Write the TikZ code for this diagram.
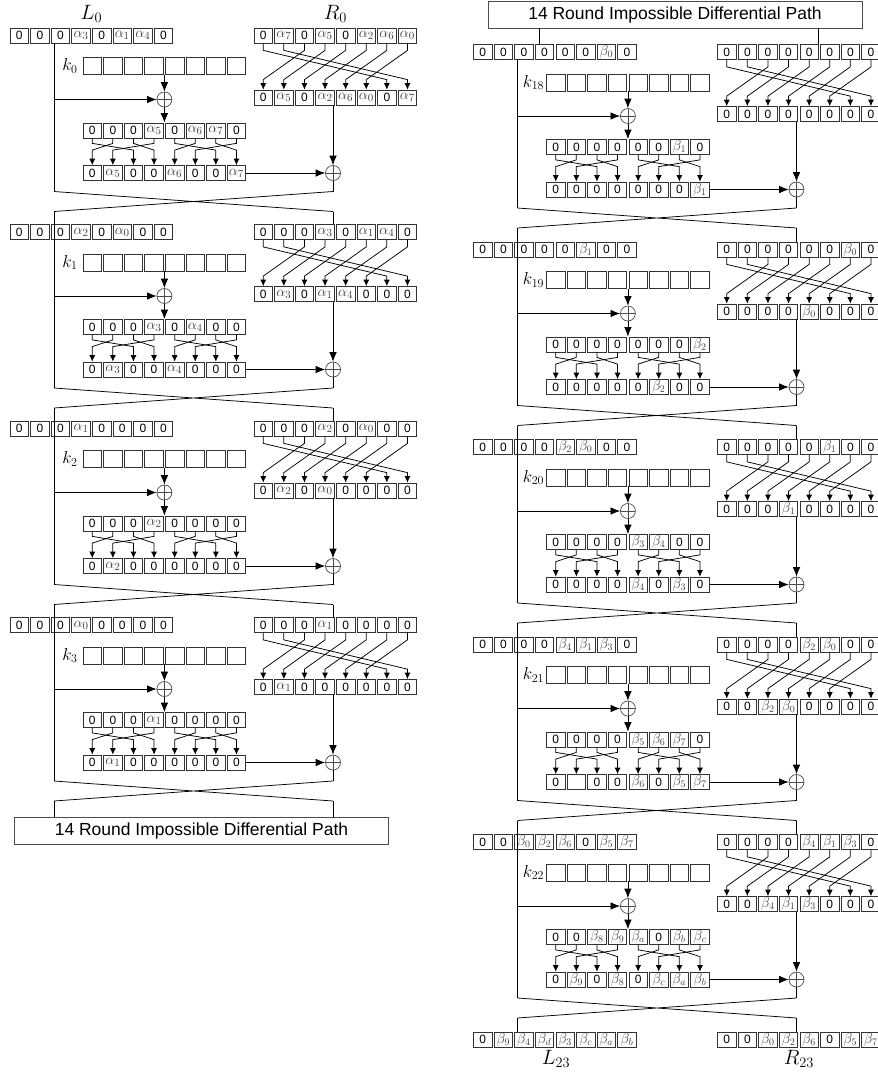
\documentclass[tikz,border=0pt]{standalone}
\usepackage{fontspec}
\setmainfont{Liberation Sans}
\usetikzlibrary{arrows.meta,calc}

\newcommand\myal[1]{{\color{black!75}\fontsize{15}{16}\selectfont$\alpha_{#1}$}}
\newcommand\mybe[1]{{\color{black!75}\fontsize{14.5}{15}\selectfont$\beta_{#1}$}}

\tikzset{
 cellbox/.style={draw=black!80, line width=0.75pt, minimum width=18.5pt, minimum height=15pt, inner sep=0pt, font=\fontsize{12}{13}\selectfont},
 keybox/.style={cellbox, minimum height=17pt},
 xorn/.style={circle, draw=black!70, line width=0.7pt, minimum size=15pt, inner sep=0pt,
   path picture={\draw[black!70, line width=0.7pt] (path picture bounding box.north) -- (path picture bounding box.south) (path picture bounding box.west) -- (path picture bounding box.east);}},
 conn/.style={line width=0.75pt},
 bigarrow/.style={conn, -{Latex[length=9.5pt,width=7.5pt]}},
 smallarrow/.style={conn, -{Latex[length=6.5pt,width=6pt]}},
 pathbox/.style={draw=black!70, line width=0.8pt, minimum width=374pt, minimum height=27pt, inner sep=0pt, font=\fontsize{17.5}{20}\selectfont},
 lbl/.style={font=\fontsize{20}{22}\selectfont, inner sep=0pt},
 klbl/.style={font=\fontsize{18.5}{20}\selectfont, inner sep=0pt},
}

\newcommand\crow[5]{%
 \foreach \c [count=\i] in {#5} {\node[#4] (#1-\i) at ({#2+9.25+(\i-1)*20.6},{#3}) {\c};}}

\newcommand\feround[9]{%
 \pgfmathsetmacro\xo{#2}%
 \pgfmathsetmacro\yl{#3}%
 \crow{#1L}{10+\xo}{\yl}{cellbox}{#5}%
 \crow{#1R}{254+\xo}{\yl}{cellbox}{#6}%
 \foreach \i in {1,...,8}{\node[keybox] (#1K-\i) at ({83+\xo+9.25+(\i-1)*20.6},{\yl+30.5}) {};}%
 \node[klbl] (#1k) at ({70+\xo},{\yl+30.5}) {$#4$};%
 \crow{#1Ro}{254+\xo}{\yl+62}{cellbox}{#9}%
 \crow{#1Fu}{83+\xo}{\yl+95}{cellbox}{#7}%
 \crow{#1Fl}{83+\xo}{\yl+137.5}{cellbox}{#8}%
 \node[xorn] (#1x1) at ({164.4+\xo},{\yl+64}) {};%
 \node[xorn] (#1x2) at ({333+\xo},{\yl+137.5}) {};%
 \coordinate (#1ft) at ({54+\xo},{\yl+7.5});%
 \coordinate (#1fb) at ({54+\xo},{\yl+156});%
 \coordinate (#1gb) at ({333+\xo},{\yl+156});%
 \coordinate (#1Xl) at ({54+\xo},{\yl+176});%
 \coordinate (#1Xr) at ({333+\xo},{\yl+176});%
 \draw[conn] (#1ft) -- (#1fb);%
 \draw[bigarrow] (#1x1 |- #1K-4.south) -- (#1x1.north);%
 \draw[bigarrow] (#1ft |- #1x1) -- (#1x1.west);%
 \draw[bigarrow] (#1x1.south) -- (#1x1 |- #1Fu-4.north);%
 \draw[bigarrow] (#1x2 |- #1Ro-4.south) -- (#1x2.north);%
 \draw[bigarrow] (#1Fl-8.east) -- (#1x2.west);%
 \draw[conn] (#1x2.south) -- (#1gb);%
 \draw[conn] (#1fb) -- (#1Xr) (#1gb) -- (#1Xl);%
 \foreach \i [evaluate=\i as \j using {int(mod(\i+5,8)+1)}] in {1,...,8}
   {\draw[smallarrow] (#1R-\i.south) -- ++(0,7) -- ($(#1Ro-\j.north)+(0,-10)$) -- (#1Ro-\j.north);}%
 \foreach \s/\t in {1/3,2/1,3/4,4/2,5/7,6/5,7/8,8/6}
   {\draw[smallarrow] (#1Fu-\s.south) -- ++(0,5) -- ($(#1Fl-\t.north)+(0,-15)$) -- (#1Fl-\t.north);}%
}

\begin{document}
\begin{tikzpicture}[x=1pt,y=-1pt]
\path[use as bounding box] (0,0) rectangle (878,1074);
\clip (0,0) rectangle (878,1074);

% ---------------- left column ----------------
\node[lbl] (L0) at (91.4,14) {$L_0$};
\node[lbl] (R0) at (335.4,14) {$R_0$};

\feround{r0}{0}{35.5}{k_{0}}
 {0,0,0,\myal{3},0,\myal{1},\myal{4},0}
 {0,\myal{7},0,\myal{5},0,\myal{2},\myal{6},\myal{0}}
 {0,0,0,\myal{5},0,\myal{6},\myal{7},0}
 {0,\myal{5},0,0,\myal{6},0,0,\myal{7}}
 {0,\myal{5},0,\myal{2},\myal{6},\myal{0},0,\myal{7}}

\feround{r1}{0}{232}{k_{1}}
 {0,0,0,\myal{2},0,\myal{0},0,0}
 {0,0,0,\myal{3},0,\myal{1},\myal{4},0}
 {0,0,0,\myal{3},0,\myal{4},0,0}
 {0,\myal{3},0,0,\myal{4},0,0,0}
 {0,\myal{3},0,\myal{1},\myal{4},0,0,0}

\feround{r2}{0}{428.5}{k_{2}}
 {0,0,0,\myal{1},0,0,0,0}
 {0,0,0,\myal{2},0,\myal{0},0,0}
 {0,0,0,\myal{2},0,0,0,0}
 {0,\myal{2},0,0,0,0,0,0}
 {0,\myal{2},0,\myal{0},0,0,0,0}

\feround{r3}{0}{625}{k_{3}}
 {0,0,0,\myal{0},0,0,0,0}
 {0,0,0,\myal{1},0,0,0,0}
 {0,0,0,\myal{1},0,0,0,0}
 {0,\myal{1},0,0,0,0,0,0}
 {0,\myal{1},0,0,0,0,0,0}

\draw[conn] (r0Xl) -- (r1ft) (r0Xr) -- (r0Xr |- r1R-4.north);
\draw[conn] (r1Xl) -- (r2ft) (r1Xr) -- (r1Xr |- r2R-4.north);
\draw[conn] (r2Xl) -- (r3ft) (r2Xr) -- (r2Xr |- r3R-4.north);

\node[pathbox] (boxL) at (201.5,831) {14 Round Impossible Differential Path};
\draw[conn] (r3Xl) -- (r3Xl |- boxL.north) (r3Xr) -- (r3Xr |- boxL.north);

% ---------------- right column ----------------
\node[pathbox] (boxR) at (675,14.5) {14 Round Impossible Differential Path};

\feround{r18}{463.5}{52}{k_{18}}
 {0,0,0,0,0,0,\mybe{0},0}
 {0,0,0,0,0,0,0,0}
 {0,0,0,0,0,0,\mybe{1},0}
 {0,0,0,0,0,0,0,\mybe{1}}
 {0,0,0,0,0,0,0,0}

\feround{r19}{463.5}{249.5}{k_{19}}
 {0,0,0,0,0,\mybe{1},0,0}
 {0,0,0,0,0,0,\mybe{0},0}
 {0,0,0,0,0,0,0,\mybe{2}}
 {0,0,0,0,0,\mybe{2},0,0}
 {0,0,0,0,\mybe{0},0,0,0}

\feround{r20}{463.5}{447}{k_{20}}
 {0,0,0,0,\mybe{2},\mybe{0},0,0}
 {0,0,0,0,0,\mybe{1},0,0}
 {0,0,0,0,\mybe{3},\mybe{4},0,0}
 {0,0,0,0,\mybe{4},0,\mybe{3},0}
 {0,0,0,\mybe{1},0,0,0,0}

\feround{r21}{463.5}{644.5}{k_{21}}
 {0,0,0,0,\mybe{4},\mybe{1},\mybe{3},0}
 {0,0,0,0,\mybe{2},\mybe{0},0,0}
 {0,0,0,0,\mybe{5},\mybe{6},\mybe{7},0}
 {0,{},0,0,\mybe{6},0,\mybe{5},\mybe{7}}
 {0,0,\mybe{2},\mybe{0},0,0,0,0}

\feround{r22}{463.5}{842}{k_{22}}
 {0,0,\mybe{0},\mybe{2},\mybe{6},0,\mybe{5},\mybe{7}}
 {0,0,0,0,\mybe{4},\mybe{1},\mybe{3},0}
 {0,0,\mybe{8},\mybe{9},\mybe{a},0,\mybe{b},\mybe{c}}
 {0,\mybe{9},0,\mybe{8},0,\mybe{c},\mybe{a},\mybe{b}}
 {0,0,\mybe{4},\mybe{1},\mybe{3},0,0,0}

\draw[conn] (r18Xl) -- (r19ft) (r18Xr) -- (r18Xr |- r19R-4.north);
\draw[conn] (r19Xl) -- (r20ft) (r19Xr) -- (r19Xr |- r20R-4.north);
\draw[conn] (r20Xl) -- (r21ft) (r20Xr) -- (r20Xr |- r21R-4.north);
\draw[conn] (r21Xl) -- (r22ft) (r21Xr) -- (r21Xr |- r22R-4.north);

\crow{fL}{473.5}{1039.5}{cellbox}{0,\mybe{9},\mybe{4},\mybe{d},\mybe{3},\mybe{c},\mybe{a},\mybe{b}}
\crow{fR}{717.5}{1039.5}{cellbox}{0,0,\mybe{0},\mybe{2},\mybe{6},0,\mybe{5},\mybe{7}}
\draw[conn] (r22Xl) -- (r22Xl |- fL-3.north) (r22Xr) -- (r22Xr |- fR-4.north);
\node[lbl, anchor=north] (L23) at (556,1050) {$L_{23}$};
\node[lbl, anchor=north] (R23) at (799,1050) {$R_{23}$};

\coordinate (t1) at ($(r18L-4.north west)+(4,0)$);
\coordinate (t2) at (r18R-5.north east);
\draw[conn] (boxR.south -| t1) -- (t1) (boxR.south -| t2) -- (t2);
\end{tikzpicture}
\end{document}
